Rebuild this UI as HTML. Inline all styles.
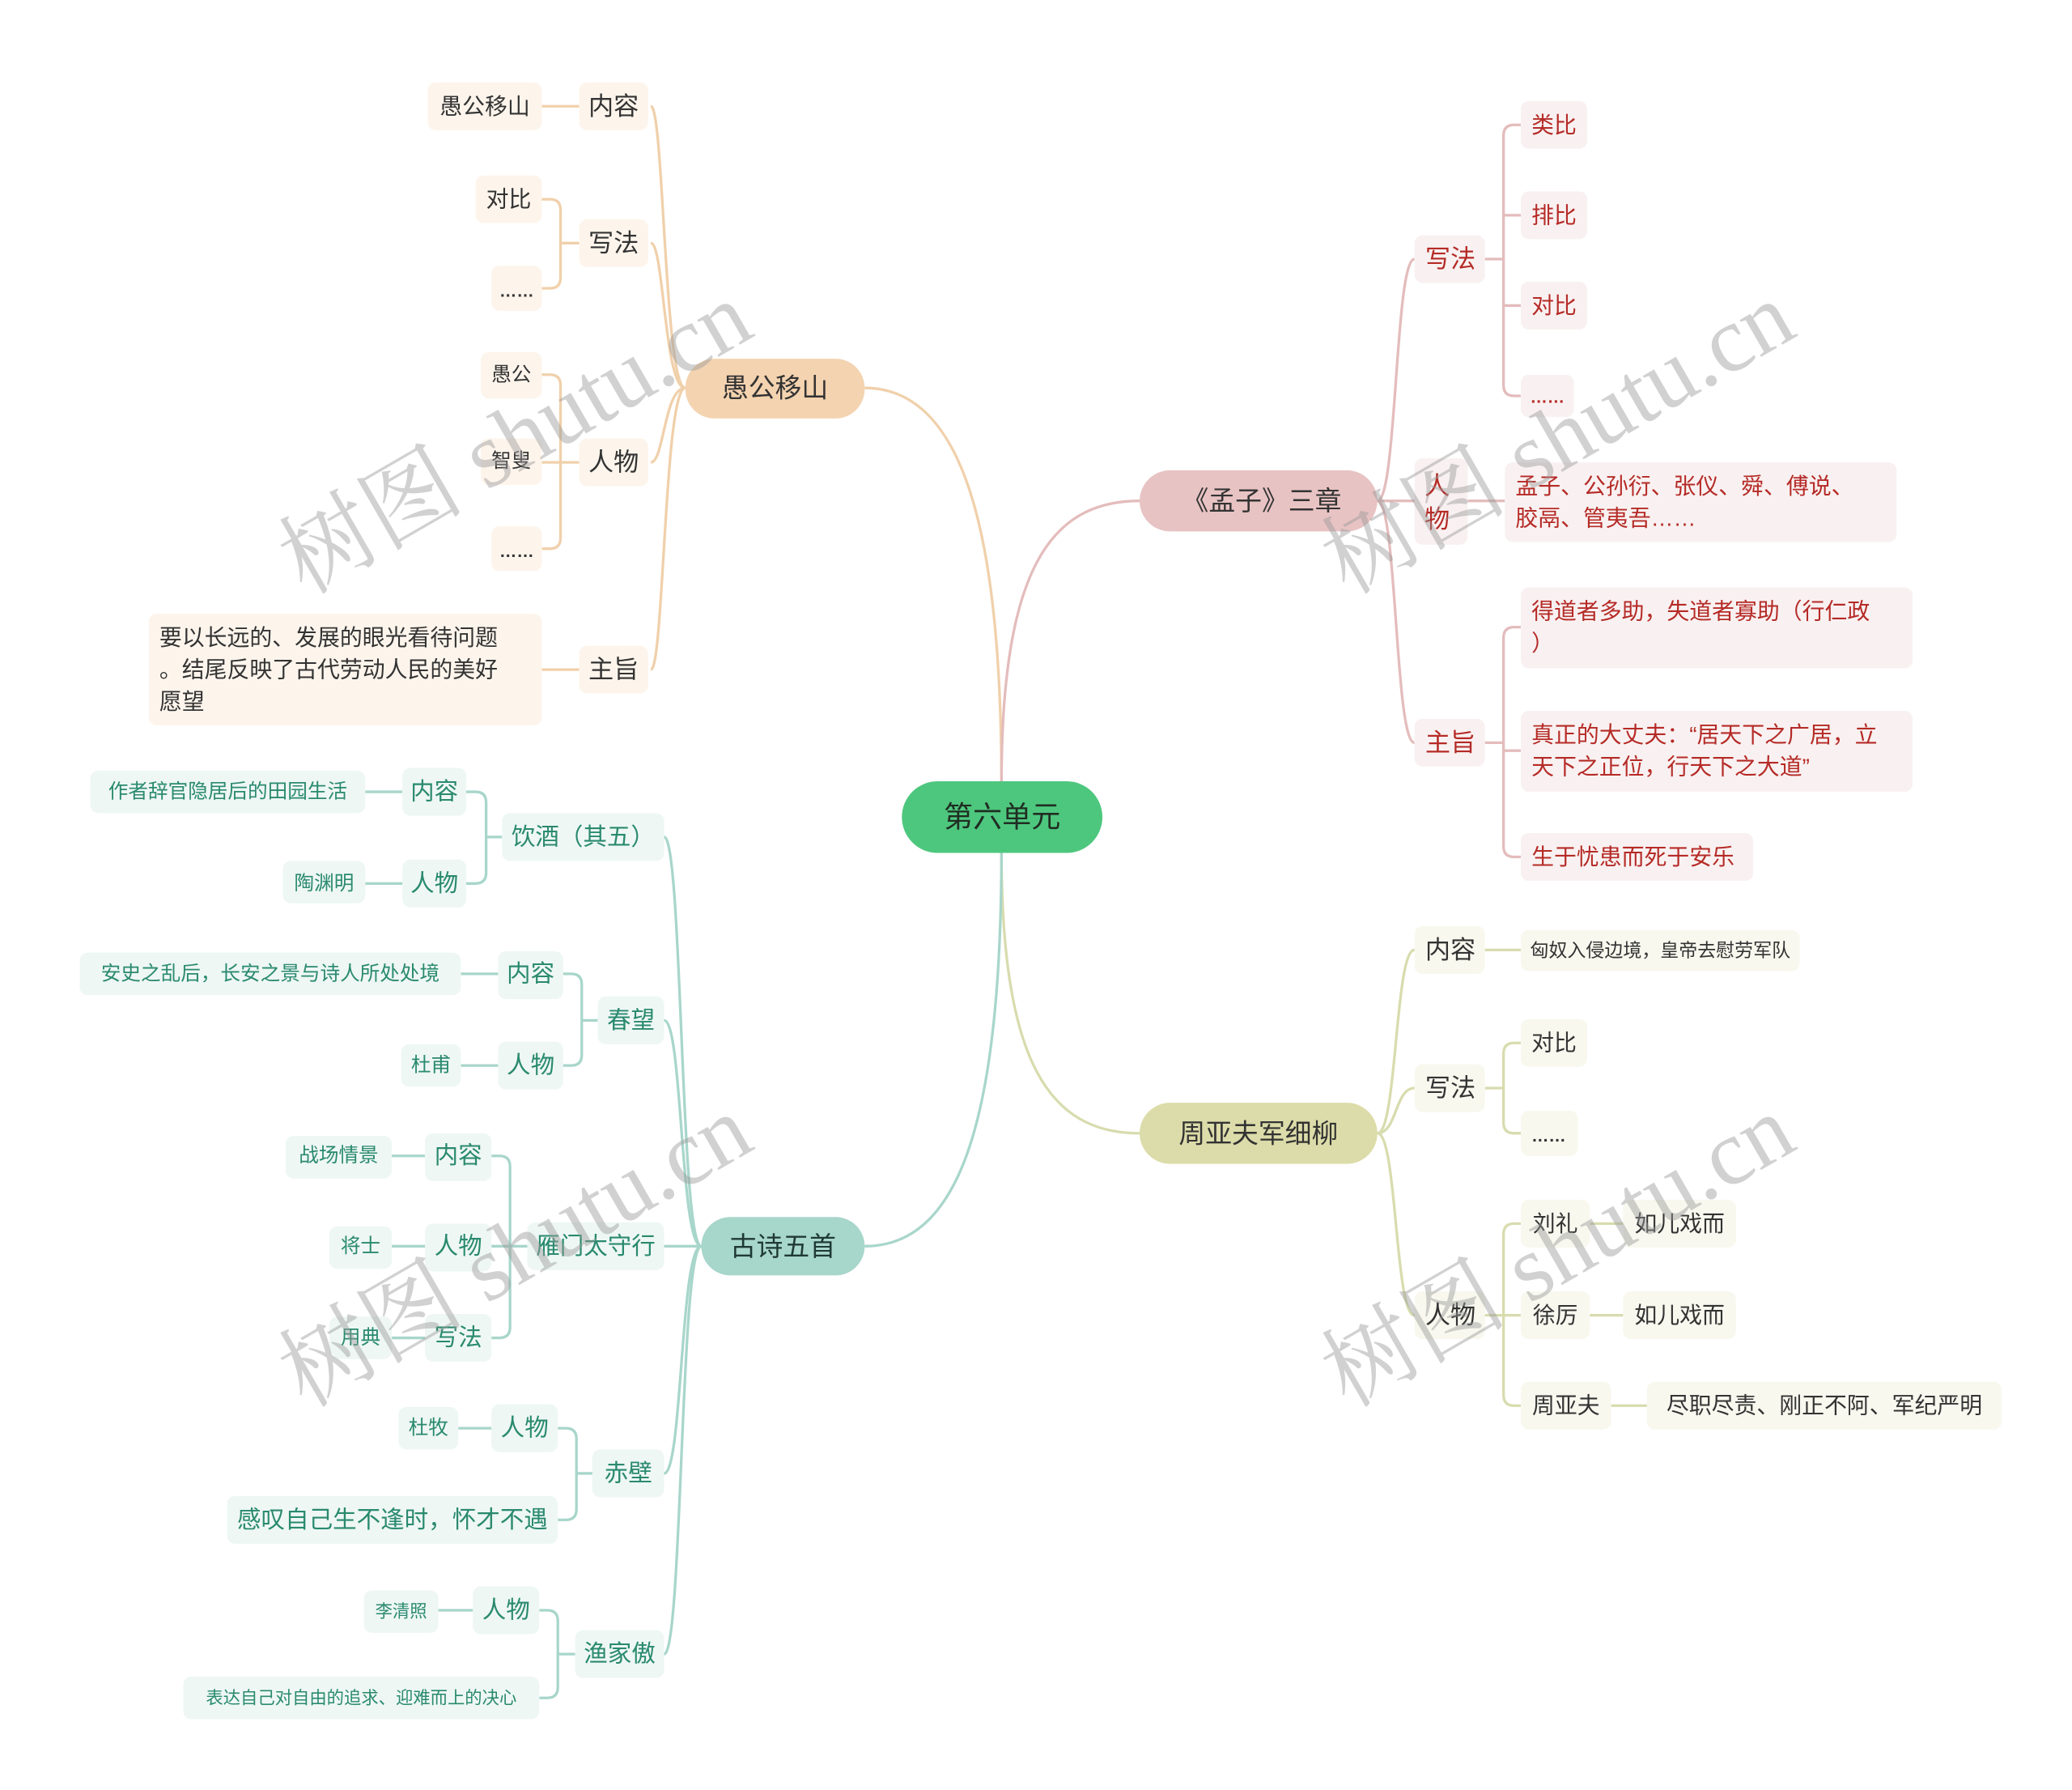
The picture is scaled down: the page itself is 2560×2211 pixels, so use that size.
<!DOCTYPE html>
<html><head><meta charset="utf-8">
<style>
html,body{margin:0;padding:0;background:#fff;}
svg{display:block;}
text{font-family:"Liberation Sans","Noto Sans CJK SC",sans-serif;dominant-baseline:central;}
</style></head>
<body>
<svg width="2560" height="2211" viewBox="0 0 1560 1347.3" preserveAspectRatio="none" xmlns="http://www.w3.org/2000/svg">
<rect width="1560" height="1348" fill="#fff"/>
<g fill="none" stroke-width="2">
<path d="M754,590 C754,400 725,292 651,292" stroke="#f0d0ab"/>
<path d="M754,590 C754,430 790,377 858,377" stroke="#e4bcbc"/>
<path d="M754,640 C754,800 790,853 858,853" stroke="#d8dcae"/>
<path d="M754,640 C754,850 720,938 651,938" stroke="#a8d6ca"/>
<g stroke="#f0d0ab">
<path d="M516,292 C500,292 500,80 490,80"/>
<path d="M516,292 C500,292 500,183 490,183"/>
<path d="M516,292 C500,292 500,348 490,348"/>
<path d="M516,292 C500,292 500,504 490,504"/>
<path d="M408,80 H436"/>
<path d="M436,183 H422 M408,150 H414 Q422,150 422,158 V209 Q422,217 414,217 H408"/>
<path d="M436,348 H408 M408,282 H414 Q422,282 422,290 V405 Q422,413 414,413 H408"/>
<path d="M408,504 H436"/>
</g>
<g stroke="#e4bcbc">
<path d="M1037,377 C1052,377 1050,195 1065,195"/>
<path d="M1037,377 H1065"/>
<path d="M1037,377 C1052,377 1050,559 1065,559"/>
<path d="M1118,195 H1132 M1145,94 H1140 Q1132,94 1132,102 V290 Q1132,298 1140,298 H1145 M1132,162 H1145 M1132,230 H1145"/>
<path d="M1105,377 H1133"/>
<path d="M1118,559 H1132 M1145,472 H1140 Q1132,472 1132,480 V637 Q1132,645 1140,645 H1145 M1132,565 H1145"/>
</g>
<g stroke="#d8dcae">
<path d="M1037,853 C1052,853 1050,715 1065,715"/>
<path d="M1037,853 C1052,853 1050,819 1065,819"/>
<path d="M1037,853 C1052,853 1050,990 1065,990"/>
<path d="M1118,715 H1145"/>
<path d="M1118,819 H1132 M1145,785 H1140 Q1132,785 1132,793 V845 Q1132,853 1140,853 H1145"/>
<path d="M1118,990 H1132 M1145,921 H1140 Q1132,921 1132,929 V1050 Q1132,1058 1140,1058 H1145 M1132,990 H1145"/>
<path d="M1197,921 H1222 M1197,990 H1222 M1213,1058 H1240"/>
</g>
<g stroke="#a8d6ca">
<path d="M528,938 C512,938 514,630 500,630"/>
<path d="M528,938 C512,938 514,768 500,768"/>
<path d="M528,938 H500"/>
<path d="M528,938 C512,938 514,1109 500,1109"/>
<path d="M528,938 C512,938 514,1245 500,1245"/>
<path d="M378,630 H366 M351,596 H358 Q366,596 366,604 V657 Q366,665 358,665 H351"/>
<path d="M275,596 H303 M275,665 H303"/>
<path d="M450,768 H438 M424,733 H430 Q438,733 438,741 V794 Q438,802 430,802 H424"/>
<path d="M347,733 H375 M347,802 H375"/>
<path d="M397,938 H384 M370,870 H376 Q384,870 384,878 V999 Q384,1007 376,1007 H370 M370,938 H384"/>
<path d="M295,870 H320 M295,938 H320 M295,1007 H320"/>
<path d="M446,1109 H434 M420,1075 H426 Q434,1075 434,1083 V1136 Q434,1144 426,1144 H420"/>
<path d="M345,1075 H370"/>
<path d="M433,1245 H420 M406,1212 H412 Q420,1212 420,1220 V1270 Q420,1278 412,1278 H406"/>
<path d="M330,1212 H356"/>
</g>
</g>

<rect x="679" y="588" width="151" height="54" rx="27" fill="#4ec77e"/>
<text x="754.5" y="615" font-size="22" text-anchor="middle" fill="#1f2d22">第六单元</text>

<g font-size="19" text-anchor="middle" fill="#333">
<rect x="516" y="270" width="135" height="45" rx="22" fill="#f4d3b0"/>
<text x="583.5" y="292" font-size="20">愚公移山</text>
<g fill="#fdf5ec">
<rect x="436" y="62" width="52" height="36" rx="6"/><rect x="436" y="165" width="52" height="36" rx="6"/>
<rect x="436" y="330" width="52" height="36" rx="6"/><rect x="436" y="486" width="52" height="36" rx="6"/>
<rect x="322" y="62" width="86" height="36" rx="6"/><rect x="358" y="132" width="50" height="36" rx="6"/>
<rect x="370" y="200" width="38" height="34" rx="6"/><rect x="362" y="265" width="46" height="35" rx="6"/>
<rect x="362" y="330" width="46" height="35" rx="6"/><rect x="370" y="396" width="38" height="34" rx="6"/>
<rect x="112" y="462" width="296" height="84" rx="6"/>
</g>
<text x="462" y="80">内容</text><text x="462" y="183">写法</text><text x="462" y="348">人物</text><text x="462" y="504">主旨</text>
<text x="365" y="80" font-size="17">愚公移山</text><text x="383" y="150" font-size="17">对比</text>
<text x="389" y="219" font-size="13" font-weight="bold">……</text><text x="385" y="282" font-size="15">愚公</text>
<text x="385" y="347" font-size="15">智叟</text><text x="389" y="415" font-size="13" font-weight="bold">……</text>
<g text-anchor="start" font-size="17"><text x="120" y="480">要以长远的、发展的眼光看待问题</text><text x="120" y="504">。结尾反映了古代劳动人民的美好</text><text x="120" y="528">愿望</text></g>
</g>

<g font-size="19" text-anchor="middle" fill="#b52b27">
<rect x="858" y="354" width="179" height="46" rx="23" fill="#e8c3c3"/>
<text x="950" y="377" font-size="20" fill="#333">《孟子》三章</text>
<g fill="#f9f1f1">
<rect x="1065" y="177" width="53" height="36" rx="6"/><rect x="1065" y="345" width="40" height="65" rx="6"/>
<rect x="1065" y="541" width="53" height="36" rx="6"/>
<rect x="1145" y="76" width="50" height="36" rx="6"/><rect x="1145" y="144" width="50" height="36" rx="6"/>
<rect x="1145" y="212" width="50" height="36" rx="6"/><rect x="1145" y="282" width="40" height="32" rx="6"/>
<rect x="1133" y="348" width="295" height="60" rx="6"/>
<rect x="1145" y="442" width="295" height="61" rx="6"/><rect x="1145" y="535" width="295" height="61" rx="6"/>
<rect x="1145" y="627" width="175" height="36" rx="6"/>
</g>
<text x="1092" y="195">写法</text><text x="1082" y="366">人</text><text x="1082" y="391">物</text><text x="1092" y="559">主旨</text>
<g font-size="17"><text x="1170" y="94">类比</text><text x="1170" y="162">排比</text><text x="1170" y="230">对比</text></g>
<text x="1165" y="299" font-size="13" font-weight="bold">……</text>
<g text-anchor="start" font-size="17">
<text x="1141" y="366">孟子、公孙衍、张仪、舜、傅说、</text><text x="1141" y="390">胶鬲、管夷吾……</text>
<text x="1153" y="460">得道者多助，失道者寡助（行仁政</text><text x="1153" y="484">）</text>
<text x="1153" y="553">真正的大丈夫：“居天下之广居，立</text><text x="1153" y="577">天下之正位，行天下之大道”</text>
<text x="1153" y="645">生于忧患而死于安乐</text>
</g>
</g>

<g font-size="19" text-anchor="middle" fill="#333">
<rect x="858" y="830" width="179" height="46" rx="23" fill="#dcdcaa"/>
<text x="947.5" y="853" font-size="20">周亚夫军细柳</text>
<g fill="#f8f8ef">
<rect x="1065" y="697" width="53" height="36" rx="6"/><rect x="1065" y="801" width="53" height="36" rx="6"/>
<rect x="1065" y="972" width="53" height="36" rx="6"/>
<rect x="1145" y="700" width="210" height="31" rx="6"/>
<rect x="1145" y="767" width="50" height="36" rx="6"/><rect x="1145" y="836" width="43" height="34" rx="6"/>
<rect x="1145" y="903" width="52" height="36" rx="6"/><rect x="1145" y="972" width="52" height="36" rx="6"/>
<rect x="1145" y="1040" width="68" height="36" rx="6"/>
<rect x="1222" y="903" width="85" height="36" rx="6"/><rect x="1222" y="972" width="85" height="36" rx="6"/>
<rect x="1240" y="1040" width="267" height="36" rx="6"/>
</g>
<text x="1092" y="715">内容</text><text x="1092" y="819">写法</text><text x="1092" y="990">人物</text>
<text x="1250" y="715" font-size="14">匈奴入侵边境，皇帝去慰劳军队</text>
<g font-size="17">
<text x="1170" y="785">对比</text><text x="1171" y="921">刘礼</text><text x="1171" y="990">徐厉</text><text x="1179" y="1058">周亚夫</text>
<text x="1264.5" y="921">如儿戏而</text><text x="1264.5" y="990">如儿戏而</text><text x="1373.5" y="1058">尽职尽责、刚正不阿、军纪严明</text>
</g>
<text x="1166" y="855" font-size="13" font-weight="bold">……</text>
</g>

<g font-size="18" text-anchor="middle" fill="#2a8a6e">
<rect x="528" y="916" width="123" height="44" rx="22" fill="#a7d6ca"/>
<text x="589.5" y="938" font-size="20" fill="#1f3a33">古诗五首</text>
<g fill="#eef7f4">
<rect x="378" y="612" width="122" height="36" rx="6"/><rect x="450" y="750" width="50" height="36" rx="6"/>
<rect x="397" y="920" width="103" height="36" rx="6"/><rect x="446" y="1091" width="54" height="36" rx="6"/>
<rect x="433" y="1227" width="67" height="36" rx="6"/>
<rect x="303" y="578" width="48" height="36" rx="6"/><rect x="303" y="647" width="48" height="36" rx="6"/>
<rect x="68" y="580" width="207" height="32" rx="6"/><rect x="213" y="648" width="62" height="32" rx="6"/>
<rect x="375" y="716" width="49" height="36" rx="6"/><rect x="375" y="784" width="49" height="36" rx="6"/>
<rect x="60" y="717" width="287" height="32" rx="6"/><rect x="302" y="786" width="45" height="32" rx="6"/>
<rect x="320" y="853" width="50" height="36" rx="6"/><rect x="320" y="921" width="50" height="36" rx="6"/>
<rect x="320" y="989" width="50" height="36" rx="6"/>
<rect x="215" y="855" width="80" height="32" rx="6"/><rect x="248" y="923" width="47" height="32" rx="6"/>
<rect x="248" y="991" width="47" height="32" rx="6"/>
<rect x="370" y="1057" width="50" height="36" rx="6"/><rect x="300" y="1059" width="45" height="32" rx="6"/>
<rect x="171" y="1126" width="249" height="36" rx="6"/>
<rect x="356" y="1194" width="50" height="36" rx="6"/><rect x="274" y="1197" width="56" height="32" rx="6"/>
<rect x="138" y="1262" width="268" height="32" rx="6"/>
</g>
<text x="439" y="630">饮酒（其五）</text><text x="475" y="768">春望</text><text x="448.5" y="938">雁门太守行</text>
<text x="473" y="1109">赤壁</text><text x="466.5" y="1245">渔家傲</text>
<text x="327" y="596">内容</text><text x="327" y="665">人物</text>
<text x="399.5" y="733">内容</text><text x="399.5" y="802">人物</text>
<text x="345" y="870">内容</text><text x="345" y="938">人物</text><text x="345" y="1007">写法</text>
<text x="395" y="1075">人物</text><text x="381" y="1212">人物</text>
<text x="295.5" y="1144">感叹自己生不逢时，怀才不遇</text>
<g font-size="15">
<text x="171.5" y="596">作者辞官隐居后的田园生活</text><text x="244" y="665">陶渊明</text>
<text x="203.5" y="733">安史之乱后，长安之景与诗人所处处境</text><text x="324.5" y="802">杜甫</text>
<text x="255" y="870">战场情景</text><text x="271.5" y="938">将士</text><text x="271.5" y="1007">用典</text>
<text x="322.5" y="1075">杜牧</text>
</g>
<g font-size="13"><text x="302" y="1213">李清照</text><text x="272" y="1278">表达自己对自由的追求、迎难而上的决心</text></g>
</g>

<g fill="#9a9a9a" fill-opacity="0.45" font-size="70">
<text x="218" y="428" transform="rotate(-30 218 428)" style="font-family:'Liberation Serif','Noto Serif CJK SC',serif">树图 shutu.cn</text>
<text x="1003" y="428" transform="rotate(-30 1003 428)" style="font-family:'Liberation Serif','Noto Serif CJK SC',serif">树图 shutu.cn</text>
<text x="218" y="1040" transform="rotate(-30 218 1040)" style="font-family:'Liberation Serif','Noto Serif CJK SC',serif">树图 shutu.cn</text>
<text x="1003" y="1040" transform="rotate(-30 1003 1040)" style="font-family:'Liberation Serif','Noto Serif CJK SC',serif">树图 shutu.cn</text>
</g>
</svg>
</body></html>
